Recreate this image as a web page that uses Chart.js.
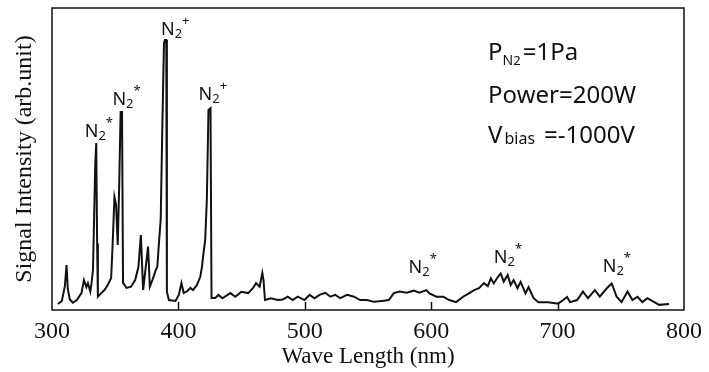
<!DOCTYPE html>
<html>
<head>
<meta charset="utf-8">
<script src="https://cdn.jsdelivr.net/npm/chart.js@4/dist/chart.umd.min.js"></script>
<style>
  html, body { margin: 0; padding: 0; background: #fff; }
</style>
</head>
<body>
<canvas id="spectrum" width="709" height="372"></canvas>
<script>
// ─── 데이터 ─────────────────────────────────────────────────────────
const wavelength = [
  304.7, 307.8, 310.2, 311.5, 312.5, 314.1, 316.5, 319.6, 323.3, 325.3,
  327.2, 328.4, 330.3, 331.3, 332.4, 333.3, 334.2, 335.0, 335.7, 336.3,
  338.9, 341.5, 344.1, 346.8, 348.0, 349.4, 350.7, 352.0, 353.1, 354.3,
  355.4, 356.2, 359.0, 362.5, 365.8, 368.4, 370.3, 372.1, 374.2, 376.0,
  377.4, 379.4, 382.1, 383.3, 384.6, 386.0, 387.2, 388.6, 389.3, 390.4,
  390.9, 392.5, 397.7, 400.3, 402.4, 404.2, 406.8, 409.5, 411.5, 414.7,
  417.3, 418.6, 419.9, 421.2, 422.5, 423.8, 425.4, 426.2, 429.1, 431.7,
  434.8, 441.1, 445.0, 449.7, 455.2, 459.1, 461.4, 464.3, 466.4, 467.3,
  468.5, 473.2, 478.7, 482.6, 486.5, 490.4, 494.4, 499.8, 503.8, 507.7,
  511.6, 516.3, 520.2, 524.1, 528.1, 533.5, 539.0, 543.7, 549.2, 554.7,
  561.0, 566.5, 570.4, 575.1, 580.6, 586.1, 590.8, 596.2, 598.6, 604.1,
  609.6, 614.3, 619.7, 625.2, 629.9, 633.9, 637.8, 641.7, 644.8, 647.2,
  649.5, 652.7, 655.0, 657.4, 660.5, 662.9, 665.2, 668.3, 670.7, 674.6,
  677.0, 680.9, 684.8, 692.6, 700.5, 704.4, 707.5, 709.9, 715.4, 720.1,
  724.0, 729.5, 733.4, 738.9, 742.8, 746.7, 750.6, 755.3, 759.2, 763.2,
  767.1, 771.0, 776.5, 780.4, 788.2
];
const intensity = [
  2.0, 3.0, 8.0, 14.9, 7.0, 3.5, 2.4, 3.3, 5.6, 9.9,
  7.6, 8.9, 6.1, 9.0, 13.2, 30.0, 48.0, 55.3, 22.0, 4.4,
  5.6, 6.6, 8.3, 10.6, 22.0, 37.4, 34.8, 21.5, 40.0, 65.6,
  65.6, 9.0, 7.3, 7.7, 9.9, 14.3, 24.8, 6.6, 14.3, 21.0,
  7.7, 9.9, 13.2, 14.3, 22.2, 30.0, 58.6, 88.3, 89.4, 89.4,
  6.0, 3.3, 3.0, 5.0, 8.9, 5.6, 6.2, 7.3, 6.6, 8.3,
  11.0, 14.2, 18.9, 23.2, 36.4, 66.2, 66.8, 4.0, 4.0, 5.0,
  3.9, 5.6, 4.4, 6.0, 5.6, 7.3, 8.9, 7.7, 12.3, 10.0,
  3.3, 3.9, 3.3, 3.5, 4.4, 3.3, 4.4, 3.3, 5.0, 3.9,
  5.0, 5.7, 4.4, 5.0, 3.9, 5.0, 4.4, 3.3, 3.3, 2.7,
  3.0, 3.3, 5.6, 6.1, 5.7, 6.4, 5.7, 6.6, 5.5, 4.4,
  4.4, 3.3, 2.6, 4.4, 5.5, 6.6, 7.2, 8.9, 7.9, 10.5,
  8.8, 10.9, 12.1, 9.4, 11.6, 8.3, 9.9, 7.2, 9.3, 5.5,
  7.6, 4.0, 2.6, 2.6, 2.1, 3.3, 4.3, 2.6, 3.3, 6.1,
  3.9, 6.6, 4.4, 7.2, 8.8, 4.4, 2.6, 6.1, 3.3, 4.4,
  2.6, 3.9, 2.6, 1.7, 2.0
];
const xTicks = [300, 400, 500, 600, 700, 800];

// 피크 라벨 (N2* / N2+)
const peakLabelNm = [325.9, 347.8, 386.2, 416.0, 582.1, 649.5, 735.7];
const peakLabelLevel = [57.3, 67.9, 91.1, 69.5, 12.3, 15.6, 12.6];
const peakLabelSup = ['*', '*', '+', '+', '*', '*', '*'];

// 측정 조건 텍스트
const condNm = 645.0;
const condLevel = [82.8, 68.5, 55.3];

// ─── 텍스트 유틸 ─────────────────────────────────────────────────────────────
const SANS = "'Noto Sans', 'DejaVu Sans', sans-serif";
const SERIF = "'Liberation Serif', 'DejaVu Serif', serif";

function drawRuns(ctx, x0, y0, runs) {
  let x = x0;
  runs.forEach((r) => {
    ctx.font = `${r.size}px ${SANS}`;
    ctx.fillText(r.t, x, y0 + (r.dy || 0));
    x += ctx.measureText(r.t).width + (r.gap || 0);
  });
}

// ─── 틀 + 눈금 + 주석 ────────────────────────────────────────────────────────
const frameAndText = {
  id: 'frameAndText',
  afterDatasetsDraw(chart) {
    const { ctx, chartArea: a, scales: { x, y } } = chart;
    ctx.save();
    ctx.strokeStyle = '#111';
    ctx.lineWidth = 1.5;
    ctx.strokeRect(a.left, a.top, a.right - a.left, a.bottom - a.top);

    // 안쪽 눈금
    xTicks.slice(1, -1).forEach((v) => {
      const px = Math.round(x.getPixelForValue(v)) + 0.5;
      ctx.beginPath();
      ctx.moveTo(px, a.bottom);
      ctx.lineTo(px, a.bottom - 8);
      ctx.stroke();
    });

    ctx.fillStyle = '#111';
    ctx.textAlign = 'left';
    ctx.textBaseline = 'alphabetic';

    peakLabelNm.forEach((nm, i) => {
      drawRuns(ctx, x.getPixelForValue(nm), y.getPixelForValue(peakLabelLevel[i]), [
        { t: 'N', size: 18 },
        { t: '2', size: 13, dy: 3 },
        { t: peakLabelSup[i], size: 13, dy: -10 },
      ]);
    });

    const cx = x.getPixelForValue(condNm);
    drawRuns(ctx, cx, y.getPixelForValue(condLevel[0]), [
      { t: 'P', size: 24 },
      { t: 'N', size: 14, dy: 5 },
      { t: '2', size: 13, dy: 5, gap: 2 },
      { t: '=1Pa', size: 24 },
    ]);
    drawRuns(ctx, cx, y.getPixelForValue(condLevel[1]), [
      { t: 'Power=200W', size: 24 },
    ]);
    drawRuns(ctx, cx, y.getPixelForValue(condLevel[2]), [
      { t: 'V', size: 24, gap: 2 },
      { t: 'bias', size: 16, dy: 1, gap: 9 },
      { t: '=-1000V', size: 24 },
    ]);
    ctx.restore();
  },
};

// ─── 차트 ────────────────────────────────────────────────────────────────────
const points = wavelength.map((w, i) => ({ x: w, y: intensity[i] }));

new Chart(document.getElementById('spectrum').getContext('2d'), {
  type: 'line',
  data: {
    datasets: [{
      data: points,
      borderColor: '#111',
      borderWidth: 2,
      pointRadius: 0,
      tension: 0,
      fill: false,
    }],
  },
  options: {
    responsive: false,
    animation: false,
    devicePixelRatio: 1,
    layout: { padding: { top: 8, right: 19, left: 0, bottom: 0 } },
    plugins: { legend: { display: false }, tooltip: { enabled: false } },
    scales: {
      x: {
        type: 'linear',
        min: 300,
        max: 800,
        afterBuildTicks: (s) => { s.ticks = xTicks.map((v) => ({ value: v })); },
        afterFit: (s) => { s.height = 62; },
        grid: { display: false, drawTicks: false },
        border: { display: false },
        ticks: {
          color: '#111',
          padding: 7,
          maxRotation: 0,
          font: { family: SERIF, size: 24 },
        },
        title: {
          display: true,
          text: 'Wave Length (nm)',
          color: '#111',
          font: { family: SERIF, size: 23 },
          padding: { top: 0, bottom: 1 },
        },
      },
      y: {
        min: 0,
        max: 100,
        afterFit: (s) => { s.width = 52; },
        grid: { display: false, drawTicks: false },
        border: { display: false },
        ticks: { display: false },
        title: {
          display: true,
          text: 'Signal Intensity (arb.unit)',
          color: '#111',
          font: { family: SERIF, size: 24 },
          padding: { top: 10, bottom: 0 },
        },
      },
    },
  },
  plugins: [frameAndText],
});
</script>
</body>
</html>
